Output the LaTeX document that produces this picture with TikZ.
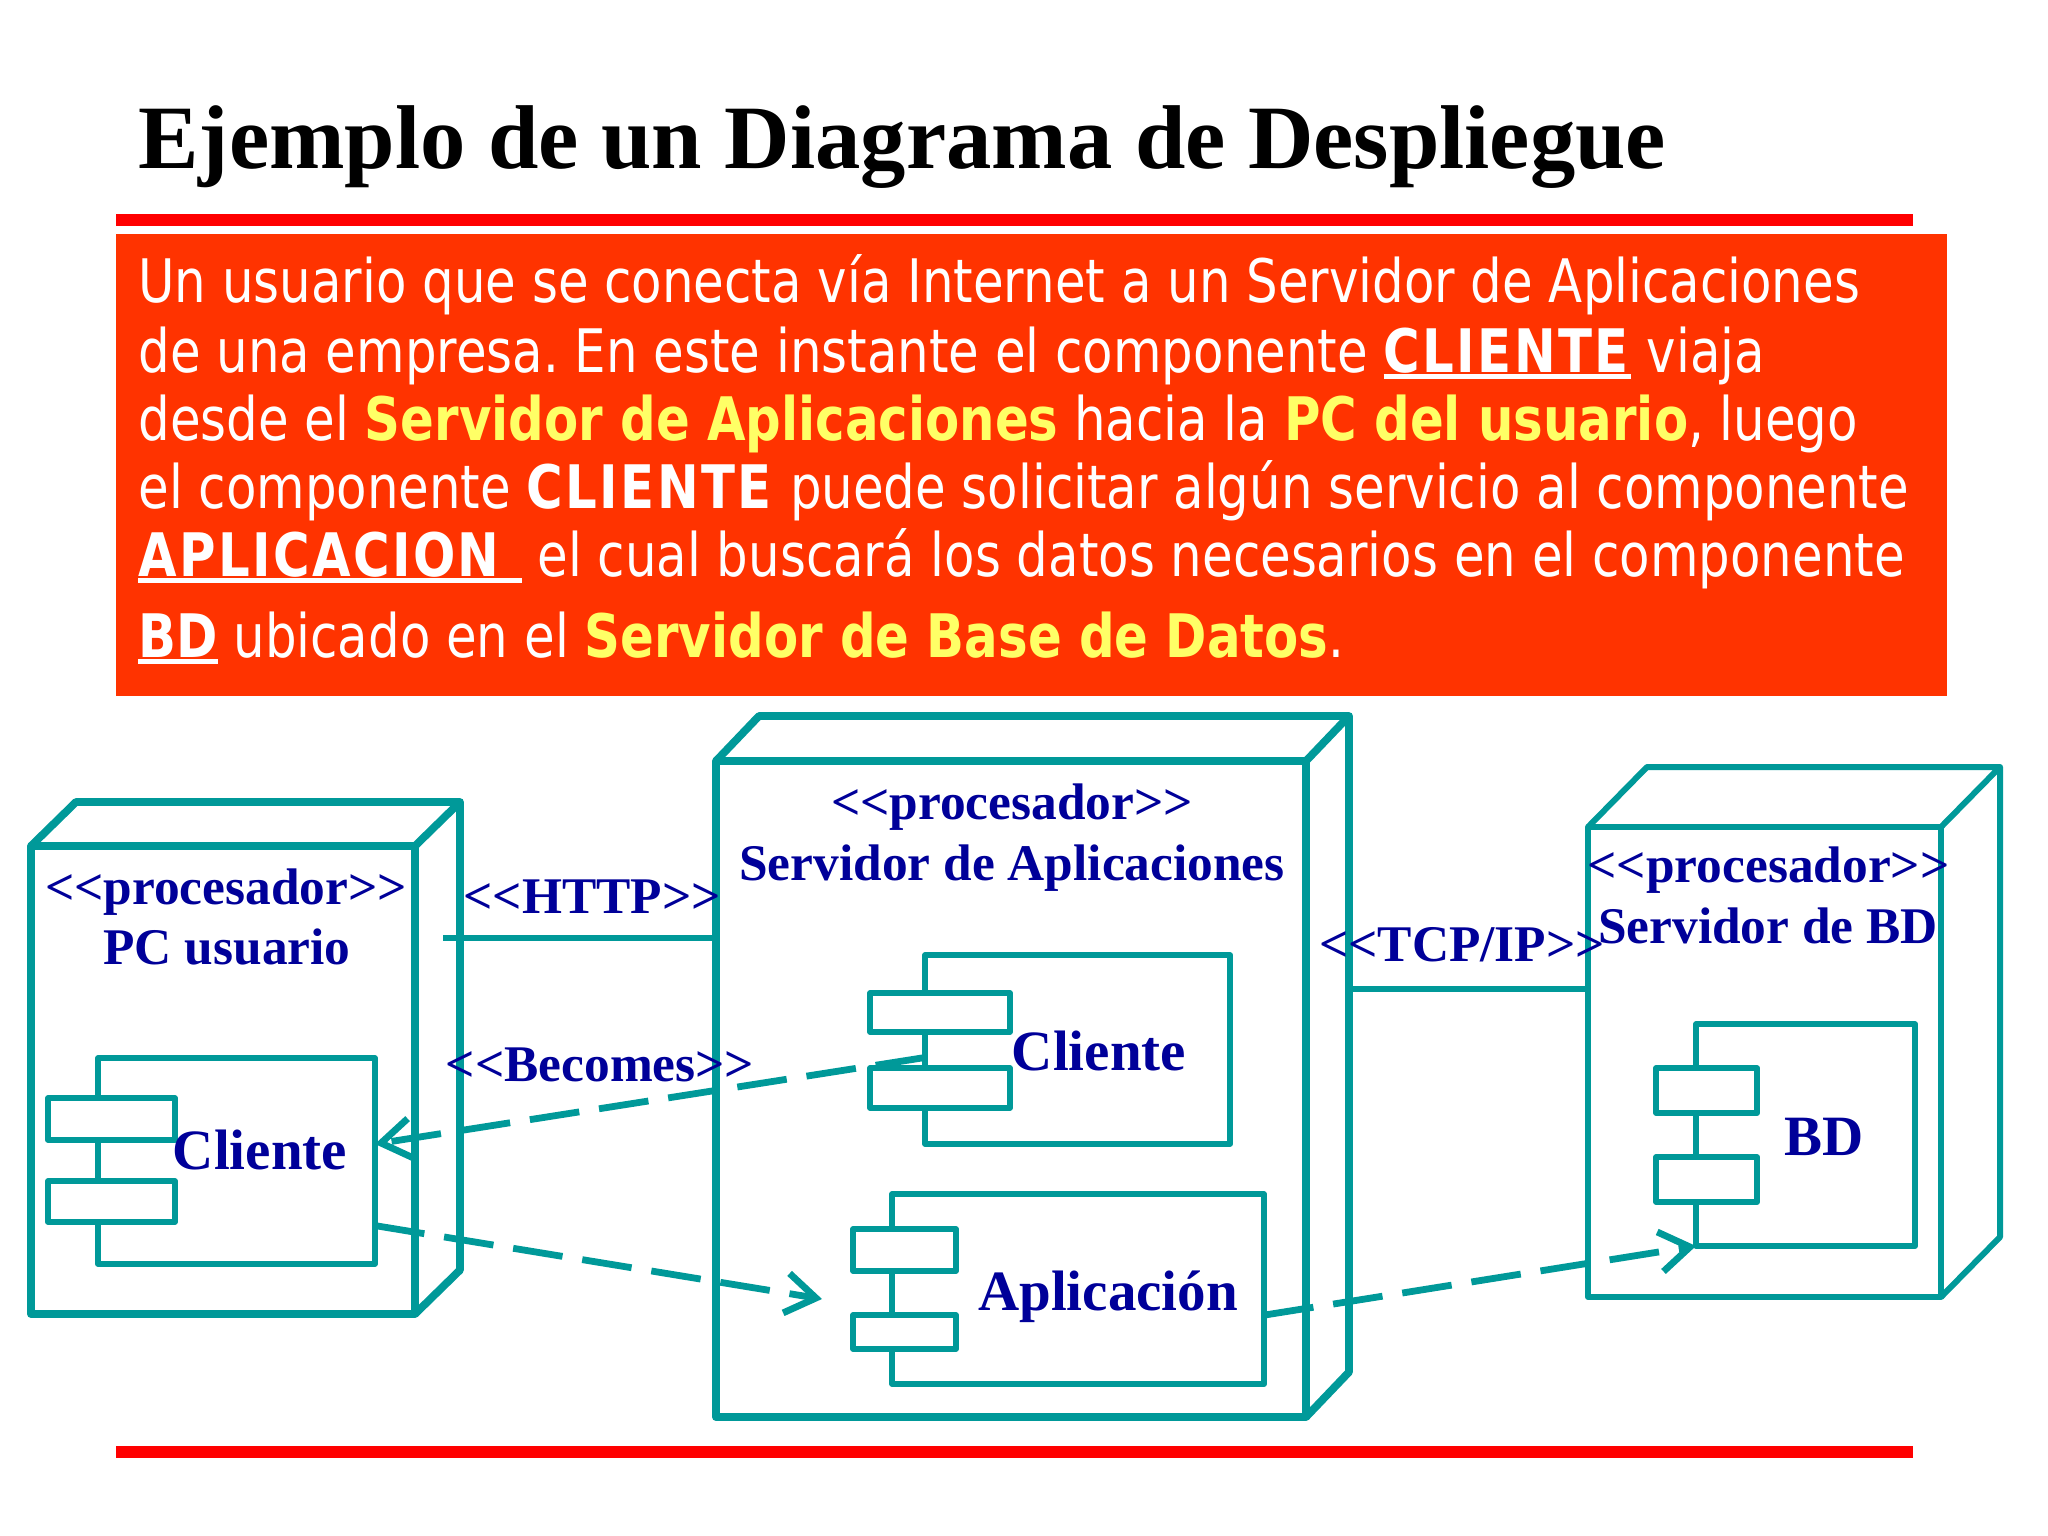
\documentclass[tikz,border=0pt]{standalone}
\usepackage{fontspec}
\setmainfont{Liberation Serif}
\newfontfamily\parrafo[FakeStretch=0.83]{DejaVu Sans}
\newcommand{\subraya}[1]{\setbox0\hbox{#1}\rlap{\rule[-3.5pt]{\wd0}{2.4pt}}\box0\ }
\newcommand{\mayus}[1]{\textbf{\addfontfeature{LetterSpace=4}#1}}
\definecolor{verdeazul}{HTML}{009999}
\definecolor{azulnodo}{HTML}{000099}
\definecolor{naranja}{HTML}{FF3300}
\definecolor{amarillo}{HTML}{FFFF66}
\usetikzlibrary{arrows.meta}

\begin{document}
\begin{tikzpicture}[x=0.5pt, y=-0.5pt,
  caja/.style = {shape=rectangle, draw=verdeazul, inner sep=0pt, outer sep=0pt, line join=round},
  equipo/.style = {caja, line width=3.9pt},
  equipofino/.style = {caja, line width=3pt},
  comp/.style = {caja, line width=2.9pt},
  pestana/.style = {comp, fill=white},
  enlace/.style = {draw=verdeazul, line width=3pt},
  flecha/.style = {draw=verdeazul, line width=3.4pt, dash pattern=on 25pt off 10pt,
    -{Straight Barb[length=15pt,width=20pt,line width=3.4pt]}},
  rotulo/.style = {anchor=base, inner sep=0pt, text=azulnodo, font=\bfseries\fontsize{25.7}{28}\selectfont},
  nombre/.style = {anchor=base, inner sep=0pt, text=azulnodo, font=\bfseries\fontsize{28.5}{32}\selectfont},
  linea/.style = {anchor=base west, inner sep=0pt, text=white, font=\parrafo\fontsize{30}{34}\selectfont\frenchspacing}]
  \useasboundingbox (0,0) rectangle (2048,1535);
  \fill[red] (116,214) rectangle (1913,226);
  \fill[red] (116,1446) rectangle (1913,1458);
  \fill[naranja] (116,234) rectangle (1947,696);

  \node[anchor=base west, inner sep=0pt, font=\bfseries\fontsize{45.3}{50}\selectfont] (titulo) at (138,169)
    {Ejemplo de un Diagrama de Despliegue};

  \node[linea] (l1) at (138,303) {Un usuario que se conecta vía Internet a un Servidor de Aplicaciones};
  \node[linea] (l2) at (138,372) {de una empresa. En este instante el componente \subraya{\mayus{CLIENTE}}viaja};
  \node[linea] (l3) at (138,440) {desde el \textcolor{amarillo}{\textbf{Servidor de Aplicaciones}} hacia la \textcolor{amarillo}{\textbf{PC del usuario}}, luego};
  \node[linea] (l4) at (138,508) {el componente \mayus{CLIENTE} puede solicitar algún servicio al componente};
  \node[linea] (l5) at (138,576) {\subraya{\mayus{APLICACION }}el cual buscará los datos necesarios en el componente};
  \node[linea] (l6) at (138,657) {\subraya{\textbf{BD}}ubicado en el \textcolor{amarillo}{\textbf{Servidor de Base de Datos}}.};

  \node[equipo, minimum width=192pt, minimum height=234pt] (pc) at (223,1080) {};
  \node[equipo, minimum width=295pt, minimum height=328pt] (app) at (1011,1089) {};
  \node[equipofino, minimum width=176.5pt, minimum height=235pt] (srv) at (1764.5,1062) {};

  \foreach \nodo/\dx/\dy/\ancho in {pc/45/44/3.9pt, app/43/45/3.9pt, srv/59/60/3pt}
    \draw[verdeazul, line width=\ancho, line join=round]
      (\nodo.north west) -- ++(\dx,-\dy) -| ([shift={(\dx,-\dy)}]\nodo.south east) -- (\nodo.south east)
      (\nodo.north east) -- ([shift={(\dx,-\dy)}]\nodo.north east);

  \node[comp, minimum width=138.5pt, minimum height=103pt] (clipc) at (236.5,1161) {};
  \node[pestana, minimum width=63.5pt, minimum height=21pt] (clipc1) at (111.5,1119) {};
  \node[pestana, minimum width=63.5pt, minimum height=20.5pt] (clipc2) at (111.5,1201.5) {};

  \node[comp, minimum width=152.5pt, minimum height=94.5pt] (cliapp) at (1077.5,1049.5) {};
  \node[pestana, minimum width=70pt, minimum height=19.5pt] (cliapp1) at (940,1012.5) {};
  \node[pestana, minimum width=70pt, minimum height=20pt] (cliapp2) at (940,1088) {};

  \node[comp, minimum width=186pt, minimum height=95pt] (apl) at (1078,1289) {};
  \node[pestana, minimum width=51.5pt, minimum height=21pt] (apl1) at (904.5,1250) {};
  \node[pestana, minimum width=51.5pt, minimum height=17pt] (apl2) at (904.5,1332) {};

  \node[comp, minimum width=109.5pt, minimum height=111pt] (bd) at (1805.5,1135) {};
  \node[pestana, minimum width=50.5pt, minimum height=22.5pt] (bd1) at (1706.5,1090.5) {};
  \node[pestana, minimum width=50.5pt, minimum height=22.5pt] (bd2) at (1706.5,1179.5) {};

  \node[rotulo] (procpc) at (226,904) {<{}<procesador>{}>};
  \node[rotulo] (nompc) at (227,964) {PC usuario};
  \node[rotulo] (procapp) at (1012,819) {<{}<procesador>{}>};
  \node[rotulo] (nomapp) at (1012,880) {Servidor de Aplicaciones};
  \node[rotulo] (procsrv) at (1768.5,882) {<{}<procesador>{}>};
  \node[rotulo] (nomsrv) at (1768,943) {Servidor de BD};
  \node[rotulo] (http) at (592,913) {<{}<HTTP>{}>};
  \node[rotulo] (becomes) at (600,1081) {<{}<Becomes>{}>};
  \node[rotulo] (tcp) at (1462,961) {<{}<TCP/IP>{}>};
  \node[nombre] (txtclipc) at (260,1169) {Cliente};
  \node[nombre] (txtcliapp) at (1099,1070) {Cliente};
  \node[nombre] (txtapl) at (1108,1310) {Aplicación};
  \node[nombre] (txtbd) at (1824,1155) {BD};

  \coordinate (inihttp) at (443,938);
  \coordinate (initcp) at (1349,989);
  \coordinate (puntaapl) at (822,1299);

  \draw[enlace] (inihttp) -- (app.west |- inihttp);
  \draw[enlace] (initcp) -- (srv.west |- initcp);
  \draw[flecha] (cliapp.183.2) -- (clipc.7.4);
  \draw[flecha] (clipc.-25.8) -- (puntaapl);
  \draw[flecha] (apl.-8.6) -- (bd.south west);
\end{tikzpicture}
\end{document}
